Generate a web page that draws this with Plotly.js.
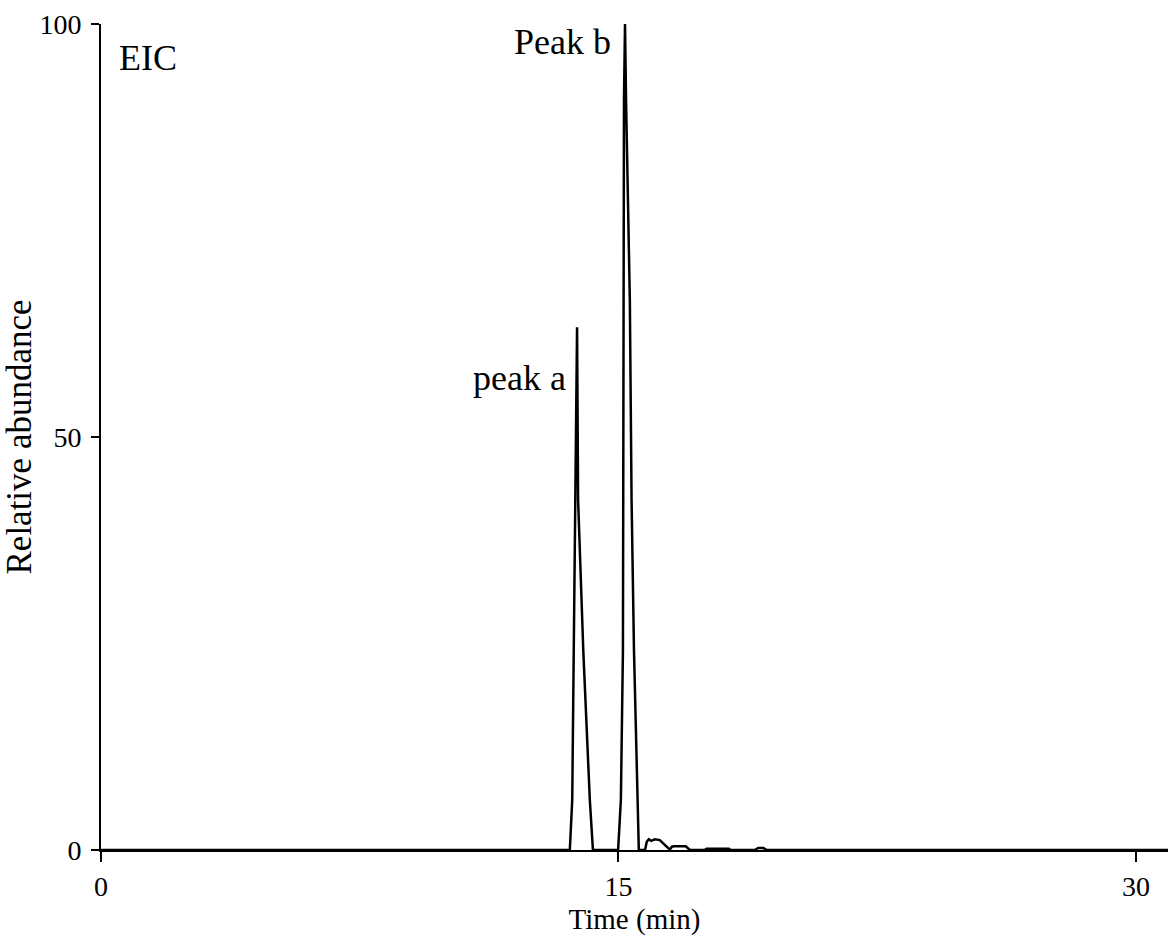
<!DOCTYPE html>
<html>
<head>
<meta charset="utf-8">
<script src="https://cdn.plot.ly/plotly-3.0.1.min.js"></script>
<style>
  html, body { margin: 0; padding: 0; background: #fff; }
  #chart { width: 1168px; height: 943px; }
</style>
</head>
<body>
<div id="chart"></div>
<script>
// Retention time (min) and relative abundance (%)
const timeMin = [0, 13.55, 13.59, 13.66, 13.71, 13.74, 13.80, 13.83, 13.98, 14.17, 14.26,
  14.99, 15.07, 15.13, 15.14, 15.145, 15.16, 15.19, 15.22, 15.33, 15.38, 15.45, 15.55, 15.59,
  15.77, 15.82, 15.88, 15.95, 16.05, 16.2, 16.35, 16.49, 16.55, 16.6, 16.95, 17.02, 17.07,
  17.5, 17.55, 17.9, 18.2, 18.25, 18.95, 19.05, 19.2, 19.3, 30.93];
const abundance = [0, 0, 0, 6.05, 24.2, 42.4, 63.3, 42.4, 24.2, 6.05, 0,
  0, 6.05, 24.2, 42.4, 66.6, 90.8, 100, 90.8, 66.6, 42.4, 24.2, 6.05, 0,
  0, 1.0, 1.3, 1.1, 1.3, 1.2, 0.6, 0.05, 0.4, 0.45, 0.45, 0.2, 0,
  0, 0.15, 0.15, 0.15, 0, 0, 0.25, 0.25, 0, 0];

const xTicks = [0, 15, 30];
const yTicks = [0, 50, 100];
const labels = [
  {text: 'EIC', x: 0.45, y: 95.9, xanchor: 'left'},
  {text: 'Peak b', x: 14.84, y: 97.8, xanchor: 'right'},
  {text: 'peak a', x: 13.54, y: 57.1, xanchor: 'right'}
];

const font = 'Liberation Serif, Times New Roman, serif';

const trace = {
  x: timeMin, y: abundance, type: 'scatter', mode: 'lines',
  line: {color: '#000', width: 2.5, shape: 'linear'},
  cliponaxis: false, hoverinfo: 'skip'
};

const layout = {
  width: 1168, height: 943,
  margin: {l: 101, r: 0, t: 24, b: 93},
  paper_bgcolor: '#fff', plot_bgcolor: '#fff',
  showlegend: false,
  font: {family: font, color: '#000', size: 28},
  xaxis: {
    range: [0, 30.93], tickvals: xTicks, ticktext: xTicks.map(String),
    showgrid: false, zeroline: false, showline: true, linecolor: '#000', linewidth: 2,
    ticks: 'outside', ticklen: 10, tickwidth: 2, tickcolor: '#000',
    tickfont: {family: font, size: 28, color: '#000'},
    title: {text: 'Time (min)', font: {family: font, size: 29, color: '#000'}, standoff: 8},
    automargin: false
  },
  yaxis: {
    range: [0, 100], tickvals: yTicks, ticktext: yTicks.map(String),
    showgrid: false, zeroline: false, showline: true, linecolor: '#000', linewidth: 2,
    ticks: 'outside', ticklen: 8, tickwidth: 2, tickcolor: '#000',
    ticklabelstandoff: 4,
    tickfont: {family: font, size: 28, color: '#000'},
    title: {text: 'Relative abundance', font: {family: font, size: 35, color: '#000'}, standoff: 0},
    automargin: false
  },
  annotations: labels.map(l => ({
    text: l.text, x: l.x, y: l.y, xref: 'x', yref: 'y',
    xanchor: l.xanchor, yanchor: 'middle', showarrow: false,
    font: {family: font, size: 36, color: '#000'}
  }))
};

Plotly.newPlot('chart', [trace], layout, {displayModeBar: false, staticPlot: true});
</script>
</body>
</html>
